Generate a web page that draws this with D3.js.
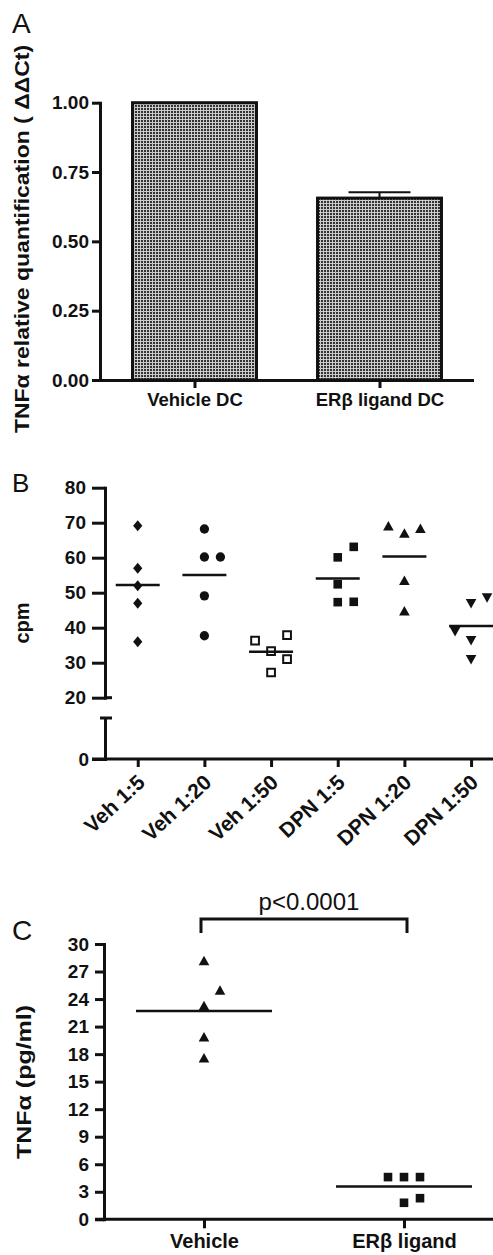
<!DOCTYPE html>
<html><head><meta charset="utf-8">
<script src="https://cdn.jsdelivr.net/npm/d3@7"></script>
<style>
html,body{margin:0;padding:0;background:#fff;}
svg{display:block;}
text{font-family:"Liberation Sans",Arial,Helvetica,sans-serif;fill:#111;}
</style></head><body>
<svg id="chart" width="493" height="1255"></svg>
<script>
// ---------- DATA ----------
// Panel A
const aCategories = ["Vehicle DC", "ERβ ligand DC"];
const aValues = [1.00, 0.656];
const aErrors = [0, 0.021];
const aTicks = [0, 0.25, 0.5, 0.75, 1.0];
const aYLabel = "TNFα relative quantification ( ΔΔCt)";

// Panel B
const bCategories = ["Veh 1:5", "Veh 1:20", "Veh 1:50", "DPN 1:5", "DPN 1:20", "DPN 1:50"];
const bVeh5  = [69.1, 57.0, 52.0, 47.0, 36.0];
const bVeh20 = [68.2, 60.2, 60.2, 49.1, 37.7];
const bVeh50 = [36.3, 33.3, 37.9, 31.0, 27.2];
const bDpn5  = [60.1, 63.1, 52.4, 47.3, 47.4];
const bDpn20 = [68.9, 66.8, 68.2, 53.3, 44.6];
const bDpn50 = [39.1, 47.1, 48.7, 36.5, 31.1];
// column slot of each point inside its group (GraphPad side-by-side placement)
const bSlots = [[0,0,0,0,0],[0,0,1,0,0],[-1,0,1,1,0],[0,1,0,0,1],[-1,0,1,0,0],[-1,0,1,0,0]];
const bMarkers = ["diamond", "circle", "squareOpen", "square", "triangle", "triangleDown"];
const bUpperTicks = [20, 30, 40, 50, 60, 70, 80];
const bLowerTicks = [0];
const bYLabel = "cpm";

// Panel C
const cCategories = ["Vehicle", "ERβ ligand"];
const cVehicle = [28.1, 24.9, 23.2, 19.8, 17.5];
const cLigand  = [4.6, 4.6, 4.6, 2.3, 1.8];
const cSlots = [[0,1,0,0,0],[-1,0,1,1,0]];
const cMarkers = ["triangle", "square"];
const cTicks = [0, 3, 6, 9, 12, 15, 18, 21, 24, 27, 30];
const cYLabel = "TNFα (pg/ml)";
const cPText = "p<0.0001";

// ---------- SETUP ----------
const svg = d3.select("#chart");
const INK = "#111";
const defs = svg.append("defs");
const pat = defs.append("pattern").attr("id", "dots")
  .attr("width", 3).attr("height", 3).attr("patternUnits", "userSpaceOnUse");
pat.append("rect").attr("width", 3).attr("height", 3).attr("fill", "#cbcbcb");
pat.append("rect").attr("width", 2).attr("height", 2).attr("fill", "#333");

const symbolTypes = {
  diamond: {draw(c){ c.moveTo(0,-5.5); c.lineTo(4.6,0); c.lineTo(0,5.5); c.lineTo(-4.6,0); c.closePath(); }},
  triangle: {draw(c){ c.moveTo(0,-5.6); c.lineTo(5.3,3.9); c.lineTo(-5.3,3.9); c.closePath(); }},
  triangleDown: {draw(c){ c.moveTo(0,5.6); c.lineTo(5.3,-3.9); c.lineTo(-5.3,-3.9); c.closePath(); }},
  circle: d3.symbolCircle,
  square: d3.symbolSquare,
  squareOpen: d3.symbolSquare
};
const symbolSizes = {circle: 68, square: 74, squareOpen: 60};

function styleAxis(g, fs) {
  g.attr("font-size", fs).attr("font-weight", "bold");
  g.select(".domain").attr("stroke", INK).attr("stroke-width", 3).attr("stroke-linecap", "square");
  g.selectAll(".tick line").attr("stroke", INK).attr("stroke-width", 3);
  g.selectAll(".tick text").attr("fill", INK);
}
function hline(x1, x2, y, w) {
  svg.append("line").attr("x1", x1).attr("x2", x2).attr("y1", y).attr("y2", y)
    .attr("stroke", INK).attr("stroke-width", w || 3);
}
function vline(x, y1, y2, w) {
  svg.append("line").attr("x1", x).attr("x2", x).attr("y1", y1).attr("y2", y2)
    .attr("stroke", INK).attr("stroke-width", w || 3);
}
function panelLetter(t, x, y, fs) {
  svg.append("text").attr("x", x).attr("y", y).attr("font-size", fs).text(t);
}
function yLabel(t, x, y, fs, sx) {
  svg.append("text").attr("transform", `translate(${x},${y}) scale(${sx || 1},1) rotate(-90)`)
    .attr("text-anchor", "middle").attr("font-size", fs).attr("font-weight", "bold").text(t);
}
function drawPoints(vals, slots, marker, xc, yScale, slotW) {
  const sym = d3.symbol().type(symbolTypes[marker]).size(symbolSizes[marker] || 64);
  svg.append("g").selectAll("path").data(vals).join("path")
    .attr("d", sym)
    .attr("transform", (d, i) => `translate(${xc + slots[i] * slotW},${yScale(d)})`)
    .attr("fill", marker === "squareOpen" ? "#fff" : INK)
    .attr("stroke", marker === "squareOpen" ? INK : "none")
    .attr("stroke-width", 2);
}

// ---------- PANEL A ----------
panelLetter("A", 12, 33, 28);
const aY = d3.scaleLinear().domain([0, 1]).range([380, 102.7]);
const aX = d3.scalePoint().domain(aCategories).range([102, 472]).padding(0.5);
const aBarW = aX.step() * 0.67;

svg.append("g").selectAll("rect").data(aValues).join("rect")
  .attr("x", (d, i) => aX(aCategories[i]) - aBarW / 2)
  .attr("y", d => aY(d))
  .attr("width", aBarW)
  .attr("height", d => aY(0) - aY(d))
  .attr("fill", "url(#dots)").attr("stroke", INK).attr("stroke-width", 3);

aValues.forEach((v, i) => {
  if (aErrors[i] > 0) {
    const xc = aX(aCategories[i]);
    vline(xc, aY(v), aY(v + aErrors[i]), 2);
    hline(xc - aBarW * 0.25, xc + aBarW * 0.25, aY(v + aErrors[i]), 2);
  }
});

const aYAxis = svg.append("g").attr("transform", "translate(100,0)")
  .call(d3.axisLeft(aY).tickValues(aTicks).tickFormat(d3.format(".2f")).tickSize(8).tickPadding(3).tickSizeOuter(0));
styleAxis(aYAxis, 19);
const aXAxis = svg.append("g").attr("transform", "translate(0,380)")
  .call(d3.axisBottom(aX).tickSize(8).tickPadding(5).tickSizeOuter(0));
styleAxis(aXAxis, 18.5);
yLabel(aYLabel, 29, 239, 23, 0.87);

// ---------- PANEL B ----------
panelLetter("B", 12, 492, 26);
const bGroups = [bVeh5, bVeh20, bVeh50, bDpn5, bDpn20, bDpn50];
const bY = d3.scaleLinear().domain([20, 80]).range([697.7, 487.7]);
const bYLow = d3.scaleLinear().domain([0, 10]).range([759, 718]);
const bX = d3.scalePoint().domain(bCategories).range([104.4, 504.4]).padding(0.5);

const bUp = svg.append("g").attr("transform", "translate(105,0)")
  .call(d3.axisLeft(bY).tickValues(bUpperTicks).tickSize(13).tickPadding(6).tickSizeOuter(0));
styleAxis(bUp, 19);
const bLow = svg.append("g").attr("transform", "translate(105,0)")
  .call(d3.axisLeft(bYLow).tickValues(bLowerTicks).tickSize(13).tickPadding(3).tickSizeOuter(0));
styleAxis(bLow, 19);
// axis break caps
hline(105, 112, bY(20), 3);
hline(100, 112, bYLow.range()[1], 3);

const bXAxis = svg.append("g").attr("transform", "translate(0,759)")
  .call(d3.axisBottom(bX).tickSize(8).tickSizeOuter(0));
styleAxis(bXAxis, 21);
bXAxis.select(".domain").remove();
hline(92, 500, 759, 3);
bXAxis.selectAll(".tick text")
  .attr("text-anchor", "end").attr("dy", null).attr("y", null)
  .attr("transform", "translate(8,25) rotate(-43)");

bGroups.forEach((vals, gi) => {
  const xc = bX(bCategories[gi]);
  const m = d3.mean(vals);
  drawPoints(vals, bSlots[gi], bMarkers[gi], xc, bY, 16);
  hline(xc - 22, xc + 22, bY(m), 2.5);
});
yLabel(bYLabel, 29, 623, 20);

// ---------- PANEL C ----------
panelLetter("C", 12, 940, 28);
const cGroups = [cVehicle, cLigand];
const cY = d3.scaleLinear().domain([0, 30]).range([1219.3, 944]);
const cX = d3.scalePoint().domain(cCategories).range([104, 504]).padding(0.5);

const cYAxis = svg.append("g").attr("transform", "translate(104,0)")
  .call(d3.axisLeft(cY).tickValues(cTicks).tickSize(9).tickPadding(6).tickSizeOuter(0));
styleAxis(cYAxis, 19);
const cXAxis = svg.append("g").attr("transform", "translate(0,1219.3)")
  .call(d3.axisBottom(cX).tickSize(9).tickPadding(6).tickSizeOuter(0));
styleAxis(cXAxis, 20);
cXAxis.select(".domain").remove();
hline(95, 500, 1219.3, 3);

cGroups.forEach((vals, gi) => {
  const xc = cX(cCategories[gi]);
  const m = d3.mean(vals);
  drawPoints(vals, cSlots[gi], cMarkers[gi], xc, cY, 16);
  hline(xc - 68, xc + 68, cY(m), 2.5);
});
yLabel(cYLabel, 31, 1082, 25, 0.8);

// significance bracket
const bx1 = cX(cCategories[0]) - 3, bx2 = cX(cCategories[1]) + 3;
svg.append("path")
  .attr("d", `M${bx1},933V919H${bx2}V933`)
  .attr("fill", "none").attr("stroke", INK).attr("stroke-width", 3);
svg.append("text").attr("x", (bx1 + bx2) / 2 + 5).attr("y", 910)
  .attr("text-anchor", "middle").attr("font-size", 24).text(cPText);
</script>
</body></html>
